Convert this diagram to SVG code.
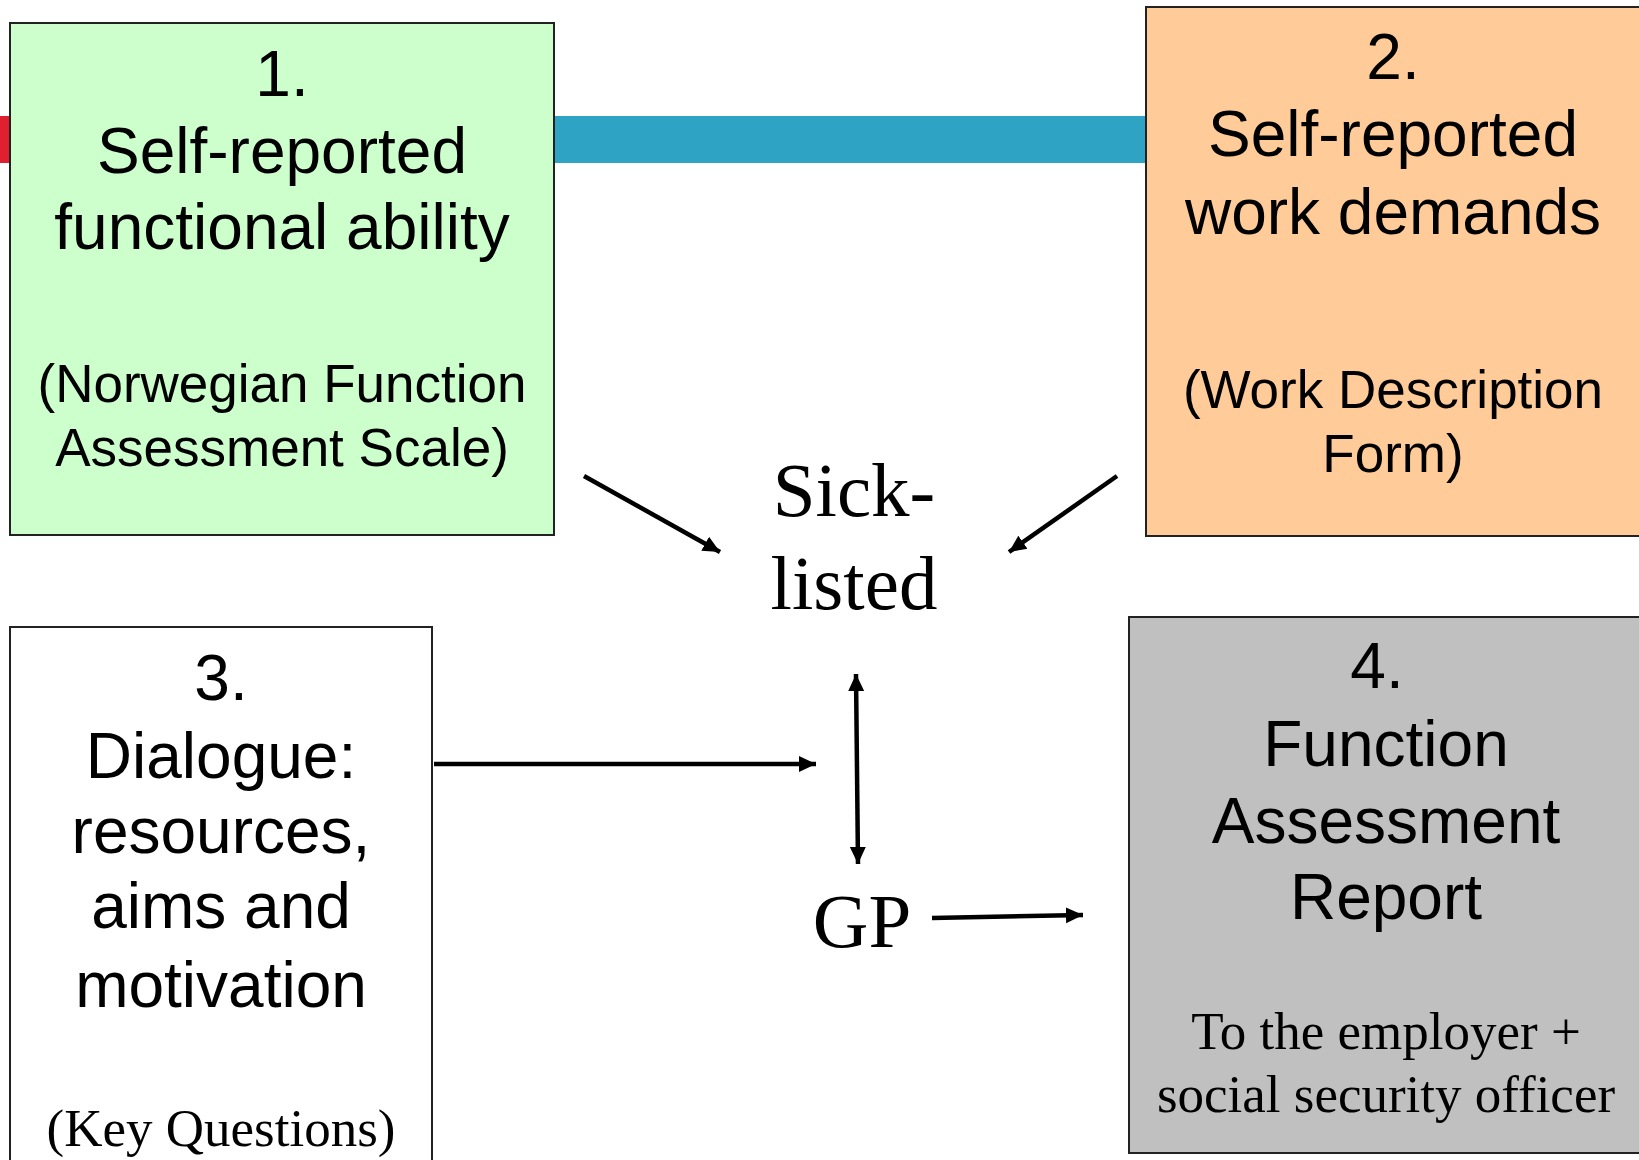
<svg xmlns="http://www.w3.org/2000/svg" width="1639" height="1160" viewBox="0 0 1639 1160">
<style>
.box{stroke:#222;stroke-width:2}
.sans{font-family:"Liberation Sans",Arial,sans-serif;fill:#000;text-anchor:middle}
.serif{font-family:"Liberation Serif","Times New Roman",serif;fill:#000;text-anchor:middle}
.big{font-size:64px}
.sub{font-size:53px}
.huge{font-size:77px}
.conn{stroke:#000;stroke-width:4.5;fill:none}
</style>
<defs>
<marker id="ah" markerUnits="userSpaceOnUse" markerWidth="20" markerHeight="20" refX="17" refY="9" orient="auto-start-reverse">
<path d="M0,1 L17,9 L0,17 z" fill="#000"/>
</marker>
</defs>
<rect width="1639" height="1160" fill="#fff"/>
<g id="bars">
<rect x="0" y="116" width="12" height="47" fill="#E0202F"/>
<rect x="554" y="116" width="592" height="47" fill="#2EA3C3"/>
</g>
<g id="node1">
<rect class="box" x="10" y="23" width="544" height="512" fill="#CCFFCC"/>
<text class="sans big" x="282" y="96">1.</text>
<text class="sans big" x="282" y="173">Self-reported</text>
<text class="sans big" x="282" y="249">functional ability</text>
<text class="sans sub" x="282" y="402">(Norwegian Function</text>
<text class="sans sub" x="282" y="466">Assessment Scale)</text>
</g>
<g id="node2">
<rect class="box" x="1146" y="7" width="500" height="529" fill="#FFCC99"/>
<text class="sans big" x="1393" y="79">2.</text>
<text class="sans big" x="1393" y="156">Self-reported</text>
<text class="sans big" x="1393" y="234">work demands</text>
<text class="sans sub" x="1393" y="408">(Work Description</text>
<text class="sans sub" x="1393" y="472">Form)</text>
</g>
<g id="node3">
<rect class="box" x="10" y="627" width="422" height="545" fill="#FFFFFF"/>
<text class="sans big" x="221" y="700">3.</text>
<text class="sans big" x="221" y="778">Dialogue:</text>
<text class="sans big" x="221" y="853">resources,</text>
<text class="sans big" x="221" y="928">aims and</text>
<text class="sans big" x="221" y="1007">motivation</text>
<text class="serif sub" x="221" y="1146">(Key Questions)</text>
</g>
<g id="node4">
<rect class="box" x="1129" y="617" width="520" height="536" fill="#C0C0C0"/>
<text class="sans big" x="1377" y="688">4.</text>
<text class="sans big" x="1386" y="766">Function</text>
<text class="sans big" x="1386" y="843">Assessment</text>
<text class="sans big" x="1386" y="919">Report</text>
<text class="serif sub" x="1386" y="1049">To the employer +</text>
<text class="serif sub" x="1386" y="1112">social security officer</text>
</g>
<g id="sick">
<text class="serif huge" x="854" y="516">Sick-</text>
<text class="serif huge" x="854" y="609">listed</text>
</g>
<g id="gp">
<text class="serif huge" x="862" y="947">GP</text>
</g>
<g id="connectors">
<line class="conn" x1="584" y1="476" x2="720" y2="552" marker-end="url(#ah)"/>
<line class="conn" x1="1117" y1="476" x2="1009" y2="552" marker-end="url(#ah)"/>
<line class="conn" x1="434" y1="764" x2="816" y2="764" marker-end="url(#ah)"/>
<line class="conn" x1="856" y1="674" x2="858" y2="864" marker-start="url(#ah)" marker-end="url(#ah)"/>
<line class="conn" x1="932" y1="918" x2="1083" y2="915" marker-end="url(#ah)"/>
</g>
</svg>
